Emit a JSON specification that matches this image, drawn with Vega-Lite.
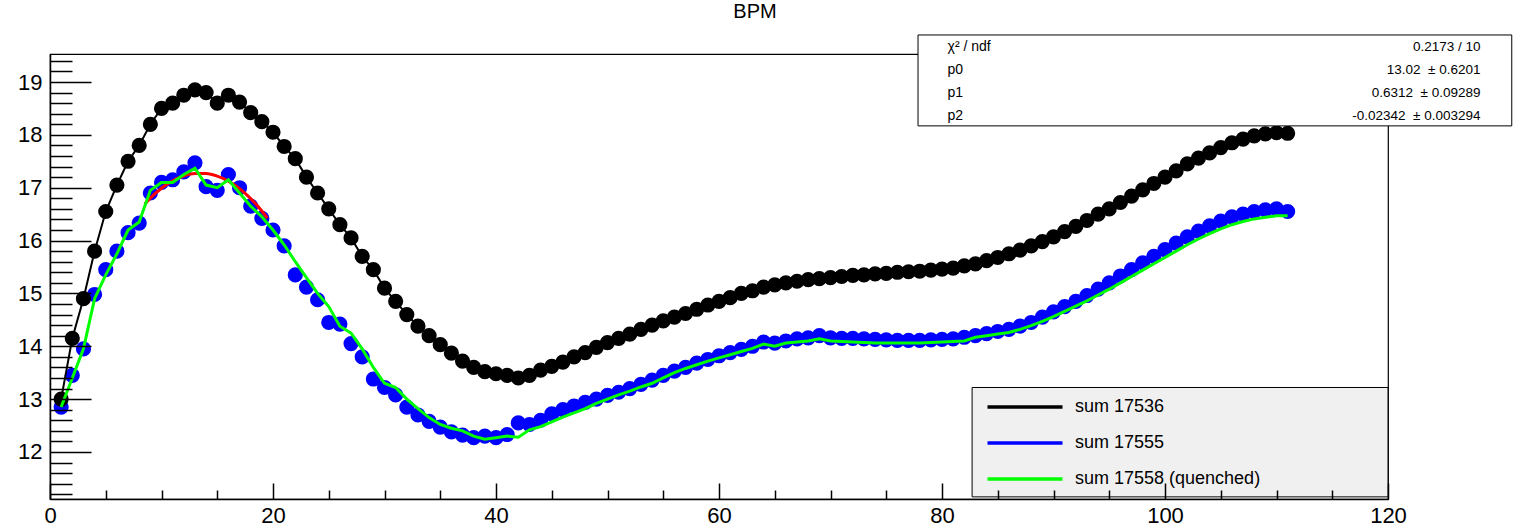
{
  "$schema": "https://vega.github.io/schema/vega-lite/v6.json",
  "width": 1338,
  "height": 445,
  "autosize": {"type": "none"},
  "padding": {"left": 50, "top": 54, "right": 126, "bottom": 27},
  "background": "white",
  "config": {
    "view": {"stroke": "black", "strokeWidth": 1.2},
    "font": "Liberation Sans",
    "axis": {"labelFont": "Liberation Sans", "labelColor": "black", "tickColor": "black", "domainColor": "black", "grid": false, "title": null}
  },
  "title": {"text": "BPM", "font": "Liberation Sans", "fontSize": 20, "fontWeight": "normal", "color": "black", "anchor": "middle", "dx": 36, "offset": 12},
  "datasets": {
    "pts": [
      {"x":1,"k":13.0,"b":12.85,"g":12.85},{"x":2,"k":14.15,"b":13.45,"g":13.4},{"x":3,"k":14.9,"b":13.95,"g":13.95},{"x":4,"k":15.8,"b":14.98,"g":14.9},{"x":5,"k":16.55,"b":15.45,"g":15.35},
      {"x":6,"k":17.05,"b":15.8,"g":15.75},{"x":7,"k":17.5,"b":16.15,"g":16.2},{"x":8,"k":17.8,"b":16.33,"g":16.35},{"x":9,"k":18.2,"b":16.9,"g":16.95},{"x":10,"k":18.5,"b":17.1,"g":17.1},
      {"x":11,"k":18.6,"b":17.15,"g":17.1},{"x":12,"k":18.75,"b":17.3,"g":17.25},{"x":13,"k":18.85,"b":17.47,"g":17.37},{"x":14,"k":18.8,"b":17.02,"g":17.05},{"x":15,"k":18.6,"b":16.95,"g":17.0},
      {"x":16,"k":18.75,"b":17.25,"g":17.15},{"x":17,"k":18.62,"b":17.0,"g":16.9},{"x":18,"k":18.42,"b":16.65,"g":16.65},{"x":19,"k":18.25,"b":16.42,"g":16.45},{"x":20,"k":18.05,"b":16.2,"g":16.2},
      {"x":21,"k":17.78,"b":15.9,"g":15.92},{"x":22,"k":17.55,"b":15.35,"g":15.6},{"x":23,"k":17.2,"b":15.12,"g":15.3},{"x":24,"k":16.9,"b":14.88,"g":15.0},{"x":25,"k":16.6,"b":14.45,"g":14.75},
      {"x":26,"k":16.3,"b":14.42,"g":14.38},{"x":27,"k":16.05,"b":14.05,"g":14.25},{"x":28,"k":15.7,"b":13.8,"g":13.95},{"x":29,"k":15.45,"b":13.38,"g":13.6},{"x":30,"k":15.1,"b":13.22,"g":13.3},
      {"x":31,"k":14.85,"b":13.08,"g":13.22},{"x":32,"k":14.6,"b":12.85,"g":13.0},{"x":33,"k":14.38,"b":12.7,"g":12.82},{"x":34,"k":14.2,"b":12.58,"g":12.65},{"x":35,"k":14.03,"b":12.47,"g":12.52},
      {"x":36,"k":13.87,"b":12.38,"g":12.45},{"x":37,"k":13.72,"b":12.32,"g":12.4},{"x":38,"k":13.6,"b":12.27,"g":12.3},{"x":39,"k":13.52,"b":12.3,"g":12.24},{"x":40,"k":13.48,"b":12.27,"g":12.27},
      {"x":41,"k":13.45,"b":12.33,"g":12.3},{"x":42,"k":13.4,"b":12.55,"g":12.28},{"x":43,"k":13.45,"b":12.52,"g":12.42},{"x":44,"k":13.55,"b":12.6,"g":12.48},{"x":45,"k":13.62,"b":12.72,"g":12.57},
      {"x":46,"k":13.7,"b":12.8,"g":12.66},{"x":47,"k":13.8,"b":12.87,"g":12.74},{"x":48,"k":13.88,"b":12.94,"g":12.82},{"x":49,"k":13.98,"b":13.0,"g":12.92},{"x":50,"k":14.07,"b":13.07,"g":13.0},
      {"x":51,"k":14.15,"b":13.13,"g":13.08},{"x":52,"k":14.23,"b":13.2,"g":13.15},{"x":53,"k":14.32,"b":13.28,"g":13.23},{"x":54,"k":14.4,"b":13.36,"g":13.3},{"x":55,"k":14.48,"b":13.45,"g":13.4},
      {"x":56,"k":14.55,"b":13.53,"g":13.5},{"x":57,"k":14.62,"b":13.6,"g":13.58},{"x":58,"k":14.7,"b":13.68,"g":13.65},{"x":59,"k":14.78,"b":13.75,"g":13.72},{"x":60,"k":14.85,"b":13.82,"g":13.78},
      {"x":61,"k":14.92,"b":13.88,"g":13.84},{"x":62,"k":15.0,"b":13.94,"g":13.9},{"x":63,"k":15.05,"b":14.0,"g":13.96},{"x":64,"k":15.12,"b":14.08,"g":14.04},{"x":65,"k":15.16,"b":14.06,"g":14.0},
      {"x":66,"k":15.2,"b":14.1,"g":14.06},{"x":67,"k":15.23,"b":14.14,"g":14.08},{"x":68,"k":15.26,"b":14.16,"g":14.1},{"x":69,"k":15.28,"b":14.2,"g":14.14},{"x":70,"k":15.3,"b":14.16,"g":14.1},
      {"x":71,"k":15.32,"b":14.15,"g":14.09},{"x":72,"k":15.34,"b":14.15,"g":14.08},{"x":73,"k":15.35,"b":14.14,"g":14.07},{"x":74,"k":15.37,"b":14.13,"g":14.06},{"x":75,"k":15.38,"b":14.12,"g":14.06},
      {"x":76,"k":15.4,"b":14.11,"g":14.06},{"x":77,"k":15.41,"b":14.11,"g":14.06},{"x":78,"k":15.42,"b":14.11,"g":14.06},{"x":79,"k":15.44,"b":14.12,"g":14.07},{"x":80,"k":15.46,"b":14.13,"g":14.08},
      {"x":81,"k":15.48,"b":14.14,"g":14.09},{"x":82,"k":15.52,"b":14.17,"g":14.1},{"x":83,"k":15.56,"b":14.2,"g":14.17},{"x":84,"k":15.62,"b":14.24,"g":14.2},{"x":85,"k":15.68,"b":14.28,"g":14.23},
      {"x":86,"k":15.75,"b":14.32,"g":14.26},{"x":87,"k":15.82,"b":14.38,"g":14.32},{"x":88,"k":15.9,"b":14.45,"g":14.39},{"x":89,"k":15.98,"b":14.55,"g":14.47},{"x":90,"k":16.07,"b":14.65,"g":14.56},
      {"x":91,"k":16.17,"b":14.75,"g":14.66},{"x":92,"k":16.27,"b":14.85,"g":14.76},{"x":93,"k":16.38,"b":14.96,"g":14.86},{"x":94,"k":16.5,"b":15.08,"g":14.97},{"x":95,"k":16.6,"b":15.2,"g":15.08},
      {"x":96,"k":16.72,"b":15.33,"g":15.2},{"x":97,"k":16.84,"b":15.45,"g":15.32},{"x":98,"k":16.96,"b":15.58,"g":15.44},{"x":99,"k":17.08,"b":15.7,"g":15.56},{"x":100,"k":17.2,"b":15.83,"g":15.68},
      {"x":101,"k":17.32,"b":15.95,"g":15.8},{"x":102,"k":17.45,"b":16.07,"g":15.92},{"x":103,"k":17.56,"b":16.18,"g":16.03},{"x":104,"k":17.66,"b":16.28,"g":16.13},{"x":105,"k":17.76,"b":16.37,"g":16.22},
      {"x":106,"k":17.85,"b":16.45,"g":16.3},{"x":107,"k":17.92,"b":16.5,"g":16.36},{"x":108,"k":17.98,"b":16.55,"g":16.41},{"x":109,"k":18.02,"b":16.58,"g":16.44},{"x":110,"k":18.04,"b":16.6,"g":16.47},
      {"x":111,"k":18.03,"b":16.55,"g":16.47}
    ],
    "fit": [
      {"x":8.5,"y":16.693},{"x":9,"y":16.804},{"x":10,"y":16.99},{"x":11,"y":17.129},{"x":12,"y":17.222},{"x":13,"y":17.268},{"x":14,"y":17.267},
      {"x":15,"y":17.219},{"x":16,"y":17.124},{"x":17,"y":16.982},{"x":18,"y":16.794},{"x":19,"y":16.558},{"x":19.5,"y":16.423}
    ]
  },
  "layer": [
    {
      "data": {"values": [{}]},
      "mark": {"type": "rect", "fill": "#f0f0f0", "stroke": "black", "strokeWidth": 1},
      "encoding": {
        "x": {"datum": 82.7, "type": "quantitative", "scale": {"domain": [0, 120], "nice": false, "zero": false}, "axis": null},
        "x2": {"datum": 120},
        "y": {"datum": 13.22, "type": "quantitative", "scale": {"domain": [11.11, 19.53], "nice": false, "zero": false}, "axis": null},
        "y2": {"datum": 11.15}
      }
    },
    {
      "data": {"name": "pts"},
      "mark": {"type": "circle", "size": 230, "opacity": 1, "color": "#0000ff"},
      "encoding": {
        "x": {"field": "x", "type": "quantitative", "scale": {"domain": [0, 120], "nice": false, "zero": false},
          "axis": {"orient": "bottom", "values": [0, 20, 40, 60, 80, 100, 120], "format": "d", "ticks": true, "tickSize": -16, "tickWidth": 1.5, "domainWidth": 1.5, "labelFontSize": 22, "labelPadding": 22, "labelFlush": false, "labelOverlap": false, "zindex": 1}},
        "y": {"field": "b", "type": "quantitative", "scale": {"domain": [11.11, 19.53], "nice": false, "zero": false},
          "axis": {"orient": "left", "values": [12, 13, 14, 15, 16, 17, 18, 19], "format": "d", "ticks": true, "tickSize": -41, "tickWidth": 1.5, "domainWidth": 1.5, "labelFontSize": 22, "labelPadding": 49, "labelFlush": false, "labelOverlap": false, "zindex": 1}}
      }
    },
    {
      "data": {"name": "pts"},
      "mark": {"type": "circle", "size": 230, "opacity": 1, "color": "#000000"},
      "encoding": {
        "x": {"field": "x", "type": "quantitative", "scale": {"domain": [0, 120], "nice": false, "zero": false},
          "axis": {"orient": "bottom", "values": [5, 10, 15, 25, 30, 35, 45, 50, 55, 65, 70, 75, 85, 90, 95, 105, 110, 115], "ticks": true, "tickSize": -9, "tickWidth": 1.5, "labels": false, "domain": false, "zindex": 1}},
        "y": {"field": "k", "type": "quantitative", "scale": {"domain": [11.11, 19.53], "nice": false, "zero": false},
          "axis": {"orient": "left", "values": [11.2, 11.4, 11.6, 11.8, 12.2, 12.4, 12.6, 12.8, 13.2, 13.4, 13.6, 13.8, 14.2, 14.4, 14.6, 14.8, 15.2, 15.4, 15.6, 15.8, 16.2, 16.4, 16.6, 16.8, 17.2, 17.4, 17.6, 17.8, 18.2, 18.4, 18.6, 18.8, 19.2, 19.4], "ticks": true, "tickSize": -22, "tickWidth": 1.5, "labels": false, "domain": false, "zindex": 1}}
      }
    },
    {
      "data": {"name": "fit"},
      "mark": {"type": "line", "color": "#ff0000", "strokeWidth": 3, "interpolate": "monotone"},
      "encoding": {
        "x": {"field": "x", "type": "quantitative", "scale": {"domain": [0, 120], "nice": false, "zero": false}, "axis": null},
        "y": {"field": "y", "type": "quantitative", "scale": {"domain": [11.11, 19.53], "nice": false, "zero": false}, "axis": null}
      }
    },
    {
      "data": {"name": "pts"},
      "transform": [{"fold": ["k", "g"], "as": ["s", "v"]}],
      "mark": {"type": "line"},
      "encoding": {
        "x": {"field": "x", "type": "quantitative", "scale": {"domain": [0, 120], "nice": false, "zero": false}, "axis": null},
        "y": {"field": "v", "type": "quantitative", "scale": {"domain": [11.11, 19.53], "nice": false, "zero": false}, "axis": null},
        "color": {"field": "s", "type": "nominal",
          "scale": {"domain": ["k", "b", "g"], "range": ["#000000", "#0000ff", "#00ff00"]},
          "legend": {"orient": "none", "legendX": 958, "legendY": 336, "title": null, "padding": 0,
            "symbolType": "M-2.5,0H2.5", "symbolSize": 900, "symbolStrokeWidth": 3.5,
            "labelFont": "Liberation Sans", "labelFontSize": 18, "labelColor": "black", "labelOffset": 33, "labelLimit": 400, "rowPadding": 10,
            "labelExpr": "datum.label == 'k' ? 'sum 17536' : datum.label == 'b' ? 'sum 17555' : 'sum 17558 (quenched)'"}},
        "strokeWidth": {"field": "s", "type": "nominal", "scale": {"domain": ["k", "g"], "range": [2, 3]}, "legend": null}
      }
    },
    {
      "data": {"values": [{}]},
      "mark": {"type": "rect", "fill": "white", "stroke": "black", "strokeWidth": 1},
      "encoding": {
        "x": {"datum": 77.85, "type": "quantitative", "scale": {"domain": [0, 120], "nice": false, "zero": false}, "axis": null},
        "x2": {"datum": 131.1},
        "y": {"datum": 19.89, "type": "quantitative", "scale": {"domain": [11.11, 19.53], "nice": false, "zero": false}, "axis": null},
        "y2": {"datum": 18.17}
      }
    },
    {
      "data": {"values": [{}]},
      "mark": {"type": "text", "align": "left", "baseline": "top", "fontSize": 14, "font": "Liberation Sans", "color": "black", "lineHeight": 22.75,
        "text": ["χ² / ndf", "p0", "p1", "p2"]},
      "encoding": {
        "x": {"datum": 80.5, "type": "quantitative", "scale": {"domain": [0, 120], "nice": false, "zero": false}, "axis": null},
        "y": {"datum": 19.79, "type": "quantitative", "scale": {"domain": [11.11, 19.53], "nice": false, "zero": false}, "axis": null}
      }
    },
    {
      "data": {"values": [{}]},
      "mark": {"type": "text", "align": "right", "baseline": "top", "fontSize": 13.5, "font": "Liberation Sans", "color": "black", "lineHeight": 22.75,
        "text": ["0.2173 / 10", "13.02 \u00a0± 0.6201", "0.6312 \u00a0± 0.09289", "-0.02342 \u00a0± 0.003294"]},
      "encoding": {
        "x": {"datum": 128.3, "type": "quantitative", "scale": {"domain": [0, 120], "nice": false, "zero": false}, "axis": null},
        "y": {"datum": 19.79, "type": "quantitative", "scale": {"domain": [11.11, 19.53], "nice": false, "zero": false}, "axis": null}
      }
    }
  ],
  "resolve": {"axis": {"x": "independent", "y": "independent"}}
}
